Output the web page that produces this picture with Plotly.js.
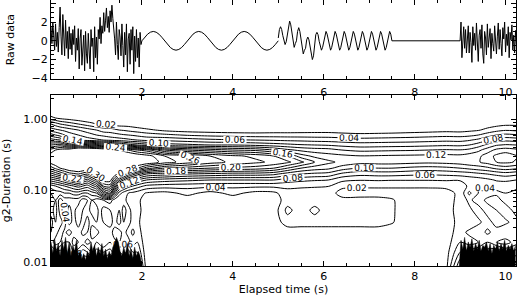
<!DOCTYPE html>
<html><head><meta charset="utf-8">
<script src="https://cdn.plot.ly/plotly-3.0.1.min.js"></script>
<style>html,body{margin:0;padding:0;background:#fff}</style>
</head><body><div id="chart" style="width:517px;height:300px"></div>
<script>
// ---------- Raw data panel ----------
// noisy segment 0 .. 2 s (step 0.02 s)
const noiseA = [1.5,-0.3,2.0,0.2,-1.0,1.8,-0.6,0.9,-1.2,1.4,
  3.6,0.5,-1.5,2.8,0.0,-1.6,2.2,-0.8,1.0,-1.9,
  1.5,-0.9,0.8,-1.5,1.2,-0.4,1.6,-2.2,0.3,-1.0,
  1.3,-3.0,0.2,1.2,-2.6,-0.5,0.6,-3.2,1.0,-1.4,
  -2.4,0.8,-1.2,-3.0,1.2,-0.6,0.3,-3.3,1.5,-1.8,
  0.4,-2.5,1.2,0.2,2.5,-0.3,1.6,0.8,3.0,1.0,
  2.2,3.5,1.4,2.6,0.9,3.2,2.0,3.8,2.4,1.5,
  0.2,-1.5,2.0,-0.4,-2.0,1.2,0.4,-1.6,1.8,-0.5,
  -2.8,0.9,-1.5,1.8,-3.3,0.2,0.8,-2.5,1.2,-1.0,
  1.5,-3.5,0.5,-2.2,1.2,-1.8,0.3,-2.8,0.9,-0.4,
  0.0];
// slow sine 2 .. 5 s (step 0.0625 s)
const slowWave = [0,0.38,0.71,0.92,1,0.92,0.71,0.38,0,-0.38,-0.71,-0.92,-1,-0.92,-0.71,-0.38,
  0,0.38,0.71,0.92,1,0.92,0.71,0.38,0,-0.38,-0.71,-0.92,-1,-0.92,-0.71,-0.38,
  0,0.38,0.71,0.92,1,0.92,0.71,0.38,0,-0.38,-0.71,-0.92,-1,-0.92,-0.71,-0.38,0];
// fast wave 5 .. 7.5 s (step 0.025 s)
const fastWave = [0.3,1.2,1.5,1.2,0.55,-0.1,-0.4,-0.1,
  0.7,1.7,2.1,1.7,0.7,-0.3,-0.7,-0.3,
  0,1.0,1.4,1.0,0,-1.0,-1.4,-1.0,
  -0.8,0.1,0.4,0.1,-0.8,-1.6,-2.0,-1.6,
  -0.05,0.65,0.9,0.65,-0.05,-0.7,-1.0,-0.7,
  0,0.71,1,0.71,0,-0.71,-1,-0.71,
  0,0.71,1,0.71,0,-0.71,-1,-0.71,
  0,0.71,1,0.71,0,-0.71,-1,-0.71,
  0,0.71,1,0.71,0,-0.71,-1,-0.71,
  0,0.71,1,0.71,0,-0.71,-1,-0.71,
  0,0.71,1,0.71,0,-0.71,-1,-0.71,
  0,0.71,1,0.71,0,-0.71,-1,-0.71,
  0,0.71,1,0.71,0];
// flat segment
const flatT = [7.5, 9.0];
const flatV = [0, 0];
// noisy segment 9 .. 10.24 s (step 0.02 s)
const noiseB = [0.0,2.0,-1.8,0.6,1.5,-0.8,1.2,-1.3,0.4,1.6,
  -1.3,0.9,-0.2,-2.3,1.5,-0.5,0.8,-1.0,1.9,0.2,
  -2.2,0.6,1.2,-0.8,1.7,-1.4,-2.4,1.0,0.3,-1.5,
  1.8,-0.7,0.5,1.3,-1.9,0.8,-0.3,-1.1,1.6,0.4,
  -1.4,0.5,1.9,-0.9,1.2,-0.3,-1.6,1.4,0.2,2.0,
  -1.2,0.7,-0.5,1.5,-1.8,0.9,0.1,1.7,-1.0,0.6,
  -1.3,1.1,-0.4];

// ---------- Contour panel ----------
const tCols = [0,0.1,0.2,0.3,0.4,0.5,0.6,0.7,0.8,0.9,1.0,1.15,1.3,1.4,1.5,1.6,1.7,1.8,1.9,2.1,
  2.5,3.0,3.5,4.0,4.5,4.9,5.2,5.5,5.8,6.1,6.4,6.8,7.2,7.5,7.9,8.3,8.7,9.0,9.2,9.4,9.6,9.8,10.0,10.23];
// durations (s), top to bottom
const durRows = [2.213,1.361,1.050,0.864,0.711,0.605,0.514,0.438,0.372,0.306,0.252,0.207,0.171,0.141,0.116,0.0922,0.0735,0.0531,0.036,0.026,0.0188,0.0136,0.00865];
// field values (x0.01) per time column, rows top to bottom
const zCols = [
 [0,0,2.5,8,11,15,19,24,29,31,31,27,21,15,9, 6,4,5,3,4,5,8,12],
 [0,0,2,7,10.5,14,18.5,24.5,30,32,32,28.5,22.5,16,10, 7,6,7,6,5,3,7,13],
 [0,0,1.5,6,10,13,18,25,31,33,33,30,24,17,11, 7,3,3,5,3,4,9,14],
 [0,0,1.2,5.5,9.5,12,15.5,23.5,31.5,33.5,33.5,31,25.5,18.5,12, 8,5,4,3,4.5,6,8,12],
 [0,0,1,5,9,11,13,22,32,34,34,32,27,20,13, 8,5,7,7,3,6,8,13],
 [0,0,0.7,4.5,8.5,10.5,12.5,23,33,34.5,34.5,32.5,27.5,21,14, 9,5,4.5,5,5,3,6,14],
 [0,0,0.5,4,8,10,12,24,34,35,35,33,28,22,15, 9,5,3,3,5,4,7,15],
 [0,0,0.2,3.5,7.5,9.5,11.5,23.5,34,35,35,32.5,27,20.5,14, 8,3,4,5,6.5,5,9,13],
 [0,0,0,3,7,9,11,23,34,35,35,32,26,19,13, 8,4,5,7,6,3,8,14],
 [0,0,0,2.5,6.5,8.5,10.8,22,34,35,35,33,28,21.5,15, 9,6,7,4.5,3,4.5,6,12],
 [0,0,0,2,6,8,10.5,21,34,35,35,34,30,24,17, 10,5,7,6,3,6,9,12],
 [0,0,0,2,5,7.5,10,20,33,35,35,35,34,31,26, 17,6,3,4,6,4,8,14],
 [0,0,0,1.5,5,7,9.5,19,32,35,35,35,34,31,27, 20,7,4,3,5,6,9,15],
 [0,0,0,1.2,4.5,6.8,9.2,18,31,34.5,35,34.5,31.5,26,20, 12,5,6,5,3,4.5,7,13],
 [0,0,0,1,4,6.5,9,17,30,34,35,34,29,21,13, 7,4,6,7,3,4,8,16],
 [0,0,0,1,3.8,6.2,8.8,16,29,33.5,34.5,32.5,26,18,11, 5,5,3,4,5,6,7,12],
 [0,0,0,1,3.5,6,8.5,15,28,33,34,31,23,15,9, 4,3,5,5,3,5,9,13],
 [0,0,0,0.8,3.2,5.8,8.2,14.5,27,32.5,33.5,29.5,21,13.5,8, 3.5,4,3,3,4.5,3,6,11],
 [0,0,0,0.5,3,5.5,8,14,26,32,33,28,19,12,7, 3,2.5,3,2.5,3,4,6,9],
 [0,0,0,0,2.5,5,7.5,13,25,31,32,25,16,10,5.5, 1.8,1,0.5,0.5,0.5,0.5,0.5,1],
 [0,0,0,0,1.5,4.5,7.5,11,20,28,29,22,15,9,5, 1.3,0.5,0,0,0,0,0,0],
 [0,0,0,0,1,3.8,7,10.5,18,26,27,21,14,8.5,4.8, 2.6,0.8,0,0,0,0,0,0],
 [0,0,0,0,0.8,3.4,6.5,10,17,24,25,20,13.5,8,4.6, 1.3,0.3,0,0,0,0,0,0],
 [0,0,0,0,0.6,3.2,6.2,10,16,22.5,23.5,19.5,13,8,4.5, 2.6,0.8,0,0,0,0,0,0],
 [0,0,0,0,0.6,3,6,9.5,15.5,21.5,22.5,19,13,8,4.5, 1.3,0.3,0,0,0,0,0,0],
 [0,0,0,0,0.8,3,5.8,9,14,20,21.5,18,12.5,8,4.5, 1.5,0.8,0.8,0.8,0.5,0.2,0.2,0.2],
 [0,0,0,0,0.8,3,5.6,8.6,12.5,18,20.5,16,11,7,4.5, 3.2,3,4.6,3,0.8,0.3,0.2,0.2],
 [0,0,0,0,0.9,3,5.5,8.2,11.5,15,18.5,14,10,6.5,4.3, 3.2,3,2.9,3,0.8,0.3,0.2,0.2],
 [0,0,0,0,1,3,5.3,8,11,13.5,16,13,9.5,6.2,4.2, 3.1,3,4.6,3,0.8,0.3,0.2,0.2],
 [0,0,0,0,1,3,5.2,7.8,10.8,12.8,14.5,12.5,9.2,6,4.1, 3,2.8,2.9,3,0.8,0.3,0.2,0.2],
 [0,0,0,0,0.8,2.8,5,7.4,10,12.5,13.5,11,7.5,4.5,2.5, 1.2,2.6,3,3,0.8,0.3,0.3,0.3],
 [0,0,0,0,0.5,2.6,4.8,7,9.5,12.1,12.8,9.8,6.6,4.1,2.3, 1.2,2.6,3,3,0.8,0.3,0.3,0.3],
 [0,0,0,0,0.6,2.7,4.9,7.1,9.6,12.2,12.9,10,6.8,4.2,2.3, 1.2,2.6,3,3,0.8,0.3,0.3,0.3],
 [0,0,0,0,0.7,2.8,5,7.2,9.7,12.3,12.9,10,6.8,4.1,2.3, 1.2,2.2,2.3,2.2,0.8,0.3,0.3,0.3],
 [0,0,0,0,0.9,3,5.1,7.3,9.8,12.4,12.7,9.5,6.5,4.1,2.3, 1.2,0.8,0.5,0.4,0.3,0.3,0.3,0.3],
 [0,0,0,0.1,1.1,3.2,5.3,7.5,10,12.5,12.5,9.2,6.3,4.1,2.3, 1.2,0.8,0.5,0.4,0.3,0.3,0.3,0.3],
 [0,0,0,0.2,1.3,3.4,5.5,7.7,10.2,12.6,12.7,9.5,6.5,4.2,2.4, 1.4,1.2,1.0,0.8,0.8,1,1.2,1.5],
 [0,0,0,0.2,1.2,3.3,5.4,7.6,10.1,12.5,13,10,6.8,4.2,2.6, 2.4,2.6,3,2.8,3.2,4,6,10],
 [0,0,0,0.5,1.5,3.5,5.8,8,10.5,13,13.5,10.5,7,4.8,4.5, 6.5,4.5,3.5,2.5,4.5,3,7,12],
 [0,0,0,0.4,1.8,4,6.5,9,11.5,13.5,13.8,11,7.5,5,4, 4,3,5,3.5,5.5,4,8,14],
 [0,0,0,0.8,2.6,5,7.8,10.5,13,15,14.8,11.5,8,5.5,4.5, 3,4.5,3,5,3.5,6,9,13],
 [0,0,0.2,1.2,3.3,6,9,11.8,14.5,16.5,16,12.5,8.5,6.2,4.8, 3.5,5,4,3,5,4,10,15],
 [0,0,0.3,1.5,3.8,6.5,9.5,12.2,15,17.3,16.5,13,9,6.3,5, 4,3,5.5,3.5,6,3,8,14],
 [0,0,0.3,1.5,3.6,6.2,9.2,12,14.5,16.2,15.8,12.5,8.5,6,4.5, 3.5,4,3,5,4,5,9,13]
];
// saturated (black) short-duration spikes in the noisy intervals, duration tops (s)
const spikesA = [0.019,0.013,0.021,0.014,0.018,0.012,0.020,0.015,0.022,0.013,0.019,0.012,0.017,0.014,0.020,0.012,
  0.014,0.011,0.013,0.0105,0.014,0.012,0.019,0.014,0.017,0.012,0.016,0.013,0.018,0.012,0.015,0.011,
  0.014,0.012,0.016,0.018,0.022,0.019,0.014,0.012,0.016,0.013,0.018,0.012,0.015,0.011,0.016,0.012,0.014,0.012,0.0085];
const spikesB = [0.0085,0.020,0.015,0.022,0.014,0.019,0.016,0.021,0.014,0.018,0.015,0.020,0.014,0.017,0.016,0.019,
  0.014,0.018,0.013,0.017,0.015,0.019,0.014,0.018,0.015,0.020,0.014,0.017,0.015,0.018,0.014,0.017];

const xTicks = [2,4,6,8,10];
const xTickText = ['2','4','6','8','10'];
const rawTicks = [-4,-2,0,2,4];
const rawTickText = ['\u22124','\u22122','0','2','4'];
const durTicks = [0.01,0.1,1];
const durTickText = ['0.01','0.10','1.00'];

// ---------- build ----------
const yAsc = durRows.slice().reverse();
const zGrid = yAsc.map((_, i) => zCols.map(col => col[col.length - 1 - i] / 100));

const blk = {color:'#000', width:1};
const traces = [
  {type:'scatter', mode:'lines', x0:0, dx:0.02, y:noiseA, line:blk, xaxis:'x', yaxis:'y', hoverinfo:'skip'},
  {type:'scatter', mode:'lines', x0:2, dx:0.0625, y:slowWave, line:blk, xaxis:'x', yaxis:'y', hoverinfo:'skip'},
  {type:'scatter', mode:'lines', x0:5, dx:0.025, y:fastWave, line:blk, xaxis:'x', yaxis:'y', hoverinfo:'skip'},
  {type:'scatter', mode:'lines', x:flatT, y:flatV, line:blk, xaxis:'x', yaxis:'y', hoverinfo:'skip'},
  {type:'scatter', mode:'lines', x0:9, dx:0.02, y:noiseB, line:blk, xaxis:'x', yaxis:'y', hoverinfo:'skip'},
  {type:'contour', x:tCols, y:yAsc, z:zGrid, xaxis:'x2', yaxis:'y2', showscale:false,
   contours:{coloring:'none', start:0.02, end:0.30, size:0.02, showlabels:true,
     labelfont:{family:'DejaVu Sans, sans-serif', size:9, color:'#000'}, labelformat:'.2f'},
   line:{color:'#000', width:1, smoothing:0.8}, hoverinfo:'skip'},
  {type:'scatter', mode:'lines', x0:0, dx:0.04, y:spikesA, line:{color:'#000', width:0.5}, fill:'tozeroy', fillcolor:'#000', xaxis:'x2', yaxis:'y2', hoverinfo:'skip'},
  {type:'scatter', mode:'lines', x0:8.98, dx:0.04, y:spikesB, line:{color:'#000', width:0.5}, fill:'tozeroy', fillcolor:'#000', xaxis:'x2', yaxis:'y2', hoverinfo:'skip'}
];

const font = {family:'DejaVu Sans, sans-serif', size:11, color:'#000'};
function xAxis(extra){
  return Object.assign({range:[0,10.23], tickmode:'array', tickvals:xTicks, ticktext:xTickText,
    ticks:'inside', ticklen:5, tickwidth:1, tickcolor:'#000', showline:true, linecolor:'#000', linewidth:1,
    mirror:'allticks', showgrid:false, zeroline:false, tickfont:font,
    minor:{tickmode:'linear', tick0:0, dtick:0.5, ticks:'inside', ticklen:3, tickcolor:'#000', showgrid:false}}, extra);
}
const layout = {
  width:517, height:300, margin:{l:51, r:1, t:0, b:34},
  paper_bgcolor:'#fff', plot_bgcolor:'#fff', showlegend:false, font:font,
  xaxis: xAxis({domain:[0,1], anchor:'y', ticklabelstandoff:3}),
  yaxis: {domain:[0.702,1], anchor:'x', range:[-4.1,4.35], tickmode:'array', tickvals:rawTicks, ticktext:rawTickText,
    ticks:'inside', ticklen:5, tickcolor:'#000', showline:true, linecolor:'#000', linewidth:1, mirror:'allticks',
    showgrid:false, zeroline:false, tickfont:font,
    minor:{tickmode:'linear', tick0:0, dtick:0.5, ticks:'inside', ticklen:3, tickcolor:'#000', showgrid:false},
    title:{text:'Raw data', font:font, standoff:14}},
  xaxis2: xAxis({domain:[0,1], anchor:'y2', title:{text:'Elapsed time (s)', font:font, standoff:2}}),
  yaxis2: {domain:[0,0.643], anchor:'x2', type:'log', range:[-2.06,0.345], tickmode:'array', tickvals:durTicks, ticktext:durTickText,
    ticks:'inside', ticklen:5, tickcolor:'#000', showline:true, linecolor:'#000', linewidth:1, mirror:'allticks',
    showgrid:false, zeroline:false, tickfont:font,
    minor:{dtick:'D1', ticks:'inside', ticklen:3, tickcolor:'#000', showgrid:false},
    title:{text:'g2-Duration (s)', font:font, standoff:10}},
  shapes:[{type:'rect', xref:'x2 domain', yref:'y2 domain', x0:0, x1:1, y0:0.965, y1:1, layer:'below',
    fillcolor:'#fff', line:{width:0}}]
};
Plotly.newPlot('chart', traces, layout, {staticPlot:true, displayModeBar:false});
</script></body></html>
